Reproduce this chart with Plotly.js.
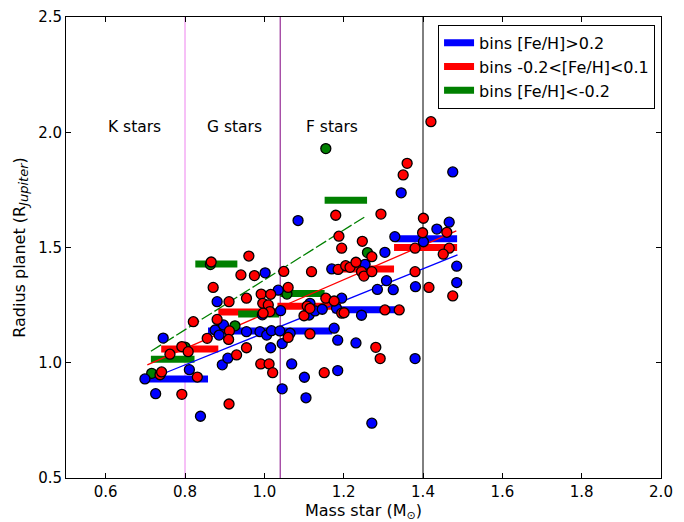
<!DOCTYPE html>
<html>
<head>
<meta charset="utf-8">
<script src="https://cdn.plot.ly/plotly-3.0.1.min.js"></script>
<style>html,body{margin:0;padding:0;background:#fff;}#chart{width:684px;height:522px;}</style>
</head>
<body>
<div id="chart"></div>
<script>
// ---- Data: planets coloured by host metallicity ----
const blueX = [0.699,0.726,0.745,0.811,0.839,0.876,0.897,0.886,0.881,0.894,0.908,0.955,0.989,1.006,1.018,1.039,1.065,1.002,1.035,1.016,1.045,1.069,1.101,1.105,1.045,1.085,1.041,1.115,1.113,1.128,1.146,1.182,1.195,1.176,1.185,1.231,1.185,1.170,1.254,1.245,1.271,1.285,1.308,1.325,1.304,1.329,1.345,1.381,1.380,1.401,1.435,1.466,1.475,1.485,1.485,0.995];
const blueY = [0.930,0.866,1.107,0.970,0.768,1.142,1.164,1.120,1.265,0.991,1.020,1.135,1.135,1.120,1.139,1.138,1.128,1.390,1.315,1.065,1.083,0.995,0.937,0.848,0.887,1.617,1.226,1.258,1.207,1.225,1.232,1.236,1.280,1.150,1.098,1.086,0.966,1.407,1.427,1.206,0.738,1.318,1.356,1.317,1.479,1.547,1.737,1.330,1.018,1.525,1.580,1.610,1.828,1.419,1.348,1.208];

const redX = [0.737,0.741,0.762,0.792,0.808,0.792,0.831,0.821,0.856,0.866,0.871,0.881,0.911,0.912,0.910,0.930,0.911,0.941,0.961,0.975,0.955,0.955,0.992,1.016,0.996,1.010,1.014,0.997,0.991,1.012,1.021,1.049,1.060,1.060,1.119,1.100,1.108,1.115,1.155,1.176,1.115,1.151,1.186,1.205,1.216,1.231,1.245,1.251,1.271,1.247,1.271,1.188,1.195,1.180,1.294,1.350,1.360,1.420,1.195,1.201,1.304,1.340,1.281,1.292,1.380,1.380,1.399,1.401,1.415,1.460,1.466,1.451,1.475];
const redY = [0.948,0.960,1.037,1.070,1.048,0.863,0.938,1.178,1.106,1.437,1.327,1.188,1.265,1.138,1.101,1.034,0.821,1.381,1.463,1.378,1.280,1.065,1.298,1.297,1.258,1.251,1.222,1.215,0.995,0.995,0.957,1.396,1.327,1.110,1.395,1.204,1.246,1.236,1.280,1.268,1.125,0.957,1.405,1.421,1.414,1.436,1.395,1.376,1.395,1.527,1.460,1.549,1.497,1.640,1.645,1.815,1.865,2.046,1.215,1.217,1.229,1.229,1.067,1.018,1.497,1.395,1.564,1.627,1.327,1.566,1.497,1.471,1.290];

const greenX = [0.716,0.800,0.864,0.926,1.057,1.155,1.260];
const greenY = [0.954,1.068,1.426,1.160,1.298,1.929,1.478];

// ---- Binned means: [start, end] and value ----
const blueBinStart = [0.705,0.858,1.172,1.330];
const blueBinEnd   = [0.858,1.171,1.334,1.486];
const blueBinVal   = [0.930,1.138,1.230,1.538];

const redBinStart = [0.740,0.884,1.033,1.193,1.327];
const redBinEnd   = [0.884,1.033,1.193,1.327,1.486];
const redBinVal   = [1.060,1.220,1.245,1.407,1.500];

const greenBinStart = [0.714,0.826,0.934,1.040,1.152];
const greenBinEnd   = [0.824,0.932,1.037,1.152,1.259];
const greenBinVal   = [1.015,1.428,1.212,1.300,1.705];

// ---- Linear fits ----
const blueFitX = [0.740,1.487];  const blueFitY = [0.949,1.468];
const redFitX  = [0.705,1.484];  const redFitY  = [0.991,1.572];
const greenFitX= [0.714,1.257];  const greenFitY= [1.050,1.637];

// ---- Spectral type boundaries ----
const boundX = [0.8,1.04,1.4];
const boundColors = ['violet','purple','black'];
const typeLabels = ['K stars','G stars','F stars'];
const typeLabelX = [0.6,0.85,1.1];
const typeLabelY = 2.0;

function segs(s,e,v){
  const x=[],y=[];
  for(let i=0;i<s.length;i++){x.push(s[i],e[i],null);y.push(v[i],v[i],null);}
  return {x,y};
}

const traces = [];
boundX.forEach((bx,i)=>{
  traces.push({x:[bx,bx],y:[0.5,2.5],mode:'lines',line:{color:boundColors[i],width:1},showlegend:false,hoverinfo:'skip'});
});
const bb=segs(blueBinStart,blueBinEnd,blueBinVal);
const rb=segs(redBinStart,redBinEnd,redBinVal);
const gb=segs(greenBinStart,greenBinEnd,greenBinVal);
traces.push({x:bb.x,y:bb.y,mode:'lines',line:{color:'#0000ff',width:7},name:'bins [Fe/H]>0.2'});
traces.push({x:rb.x,y:rb.y,mode:'lines',line:{color:'#ff0000',width:7},name:'bins -0.2<[Fe/H]<0.1'});
traces.push({x:gb.x,y:gb.y,mode:'lines',line:{color:'#008000',width:7},name:'bins [Fe/H]<-0.2'});
traces.push({x:blueFitX,y:blueFitY,mode:'lines',line:{color:'#0000ff',width:1.3},showlegend:false});
traces.push({x:redFitX,y:redFitY,mode:'lines',line:{color:'#ff0000',width:1.3},showlegend:false});
traces.push({x:greenFitX,y:greenFitY,mode:'lines',line:{color:'#008000',width:1.3,dash:'12px,3px'},showlegend:false});
const mk=(c)=>({color:c,size:10,line:{color:'black',width:1.3}});
traces.push({x:greenX,y:greenY,mode:'markers',marker:mk('#008000'),showlegend:false});
traces.push({x:blueX,y:blueY,mode:'markers',marker:mk('#0000ff'),showlegend:false});
traces.push({x:redX,y:redY,mode:'markers',marker:mk('#ff0000'),showlegend:false});

const annotations = typeLabels.map((t,i)=>({x:typeLabelX[i],y:typeLabelY,xref:'x',yref:'y',text:t,showarrow:false,xanchor:'left',yanchor:'middle',yshift:5,font:{size:15.5,color:'black',family:'DejaVu Sans'}}));

const axisCommon = {showgrid:false,zeroline:false,showline:true,linecolor:'black',linewidth:1,mirror:'allticks',ticks:'inside',ticklen:5,tickcolor:'black',tickformat:'.1f',tickfont:{size:15,color:'black',family:'DejaVu Sans'}};

const layout = {
  width:684,height:522,
  margin:{l:66,r:23,t:17,b:44},
  paper_bgcolor:'white',plot_bgcolor:'white',
  font:{family:'DejaVu Sans',color:'black'},
  xaxis:Object.assign({},axisCommon,{range:[0.5,2.0],tick0:0.6,dtick:0.2,title:{text:'Mass star (M<sub>⊙</sub>)',font:{size:16,color:'black'},standoff:4}}),
  yaxis:Object.assign({},axisCommon,{range:[0.5,2.5],tick0:0.5,dtick:0.5,title:{text:'Radius planet (R<sub><span style="font-size:13px"><i>Jupiter</i></span></sub>)',font:{size:16,color:'black'},standoff:8}}),
  showlegend:true,
  legend:{x:0.99,y:0.983,xanchor:'right',yanchor:'top',bgcolor:'white',bordercolor:'black',borderwidth:1,font:{size:16,color:'black'},tracegroupgap:2},
  annotations:annotations
};

Plotly.newPlot('chart',traces,layout,{staticPlot:true,displayModeBar:false});
</script>
</body>
</html>
